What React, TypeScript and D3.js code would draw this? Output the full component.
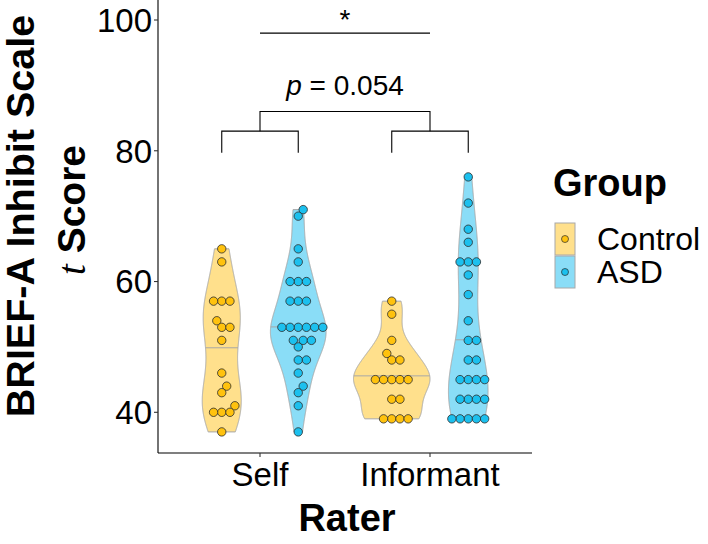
import React from "react";
import * as d3 from "d3";

// ---------- data ----------
const raters = ["Self", "Informant"];
const groups = ["Control", "ASD"];
const selfControl = [65, 63, 57, 57, 57, 54, 53, 53, 51, 46, 44, 43, 41, 40, 40, 40, 37];
const selfASD = [71, 70, 65, 63, 60, 60, 60, 57, 57, 57, 53, 53, 53, 53, 53, 53, 51, 51, 51, 50, 48, 48, 46, 44, 43, 41, 37];
const informantControl = [57, 55, 51, 49, 48, 48, 45, 45, 45, 45, 45, 42, 42, 39, 39, 39, 39];
const informantASD = [76, 72, 68, 66, 63, 63, 63, 61, 58, 54, 51, 51, 48, 48, 45, 45, 45, 45, 42, 42, 42, 42, 39, 39, 39, 39, 39];
const yTicks = [40, 60, 80, 100];
const pLabel = "0.054";
const starLabel = "*";
// bracket levels (data units)
const legBottom = 79.7;
const innerBracket = 83;
const outerBracket = 86;
const starLine = 98;

const groupFill: Record<string, string> = { Control: "#FFE08C", ASD: "#8ADDF7" };
const pointFill: Record<string, string> = { Control: "#FFC20E", ASD: "#1CC0EE" };

// ---------- layout ----------
const W = 708, H = 544;
const panel = { left: 158, right: 532, top: 0, bottom: 453 };
const x = d3.scalePoint<string>().domain(raters).range([panel.left, panel.right]).padding(0.6);
const y = d3.scaleLinear().domain([40, 100]).range([412.3, 20]);
const step = x.step();
const groupWidth = 0.45 * step;
const dodge = (g: string) => (g === "Control" ? -groupWidth / 2 : groupWidth / 2);

const series = [
  { rater: "Self", group: "Control", values: selfControl },
  { rater: "Self", group: "ASD", values: selfASD },
  { rater: "Informant", group: "Control", values: informantControl },
  { rater: "Informant", group: "ASD", values: informantASD },
];

function bwNrd0(v: number[]) {
  const s = [...v].sort((a, b) => a - b);
  const sd = d3.deviation(s) || 0;
  const iqr = ((d3.quantileSorted(s, 0.75) || 0) - (d3.quantileSorted(s, 0.25) || 0)) / 1.34;
  let lo = Math.min(sd, iqr);
  if (!(lo > 0)) lo = sd || Math.abs(s[0]) || 1;
  return 0.9 * lo * Math.pow(s.length, -0.2);
}

function density(v: number[]) {
  const bw = bwNrd0(v);
  const lo = d3.min(v)!, hi = d3.max(v)!;
  const n = 512;
  const pts: { y: number; d: number }[] = [];
  for (let i = 0; i < n; i++) {
    const yy = lo + ((hi - lo) * i) / (n - 1);
    let s = 0;
    for (const xi of v) {
      const z = (yy - xi) / bw;
      s += Math.exp(-0.5 * z * z);
    }
    pts.push({ y: yy, d: s / (v.length * bw * Math.sqrt(2 * Math.PI)) });
  }
  return pts;
}

const dens = series.map((s) => density(s.values));
const globalMax = d3.max(dens.flat(), (p) => p.d)!;

function medianOf(pts: { y: number; d: number }[]) {
  const total = d3.sum(pts, (p) => p.d);
  let c = 0;
  let prevC = 0, prevY = pts[0].y;
  for (const p of pts) {
    c += p.d / total;
    if (c >= 0.5) {
      const t = c === prevC ? 0 : (0.5 - prevC) / (c - prevC);
      return prevY + t * (p.y - prevY);
    }
    prevC = c;
    prevY = p.y;
  }
  return pts[pts.length - 1].y;
}

function widthAt(pts: { y: number; d: number }[], yy: number) {
  for (let i = 1; i < pts.length; i++) {
    if (pts[i].y >= yy) {
      const a = pts[i - 1], b = pts[i];
      const t = (yy - a.y) / (b.y - a.y || 1);
      return a.d + t * (b.d - a.d);
    }
  }
  return pts[pts.length - 1].d;
}

const DOT = 8.2;
function swarm(values: number[]) {
  const order = values.map((_, i) => i).sort((a, b) => values[a] - values[b]);
  const placed: { x: number; y: number }[] = [];
  const out: { x: number; y: number }[] = new Array(values.length);
  for (const i of order) {
    const py = y(values[i]);
    const cands = [0];
    for (const p of placed) {
      const dy = Math.abs(p.y - py);
      if (dy < DOT) {
        const off = Math.sqrt(DOT * DOT - dy * dy);
        cands.push(p.x + off, p.x - off);
      }
    }
    const ok = cands.filter((cx) =>
      placed.every((p) => Math.hypot(p.x - cx, p.y - py) >= DOT - 1e-6)
    );
    ok.sort((a, b) => Math.abs(a) - Math.abs(b) || b - a);
    const pos = { x: ok[0], y: py };
    placed.push(pos);
    out[i] = pos;
  }
  return out;
}

export default function App() {
  const area = d3
    .area<{ y: number; d: number }>()
    .y((p) => y(p.y));

  const violins = series.map((s, k) => {
    const cx = x(s.rater)! + dodge(s.group);
    const pts = dens[k];
    const hw = (p: { d: number }) => (p.d / globalMax) * (groupWidth / 2);
    const path = area.x0((p) => cx - hw(p)).x1((p) => cx + hw(p))(pts) || "";
    const med = medianOf(pts);
    const mw = (widthAt(pts, med) / globalMax) * (groupWidth / 2);
    return { s, cx, path, med, mw };
  });

  const dots = series.map((s) => {
    const cx = x(s.rater)! + dodge(s.group);
    return { s, cx, pos: swarm(s.values) };
  });

  const selfC = x("Self")! + dodge("Control");
  const selfA = x("Self")! + dodge("ASD");
  const infC = x("Informant")! + dodge("Control");
  const infA = x("Informant")! + dodge("ASD");
  const selfX = x("Self")!;
  const infX = x("Informant")!;

  const font = "'Liberation Sans', Arial, sans-serif";

  return (
    <svg width={W} height={H} style={{ position: "absolute", left: 0, top: 0 }} fontFamily={font}>
      <rect width={W} height={H} fill="#fff" />
      {/* violins */}
      {violins.map((v, i) => (
        <g key={"v" + i}>
          <path d={v.path} fill={groupFill[v.s.group]} stroke="#A8A8A8" strokeWidth={1} />
          <line x1={v.cx - v.mw} x2={v.cx + v.mw} y1={y(v.med)} y2={y(v.med)} stroke="#A8A8A8" strokeWidth={1} />
        </g>
      ))}
      {/* dots */}
      {dots.map((d, i) => (
        <g key={"d" + i}>
          {d.pos.map((p, j) => (
            <circle key={j} cx={d.cx + p.x} cy={p.y} r={4.2} fill={pointFill[d.s.group]} stroke="#2b2b2b" strokeWidth={0.8} />
          ))}
        </g>
      ))}
      {/* brackets */}
      <g stroke="#000" strokeWidth={1.1} fill="none">
        <path d={`M${selfC},${y(legBottom)}V${y(innerBracket)}H${selfA}V${y(legBottom)}`} />
        <path d={`M${infC},${y(legBottom)}V${y(innerBracket)}H${infA}V${y(legBottom)}`} />
        <path d={`M${selfX},${y(innerBracket)}V${y(outerBracket)}H${infX}V${y(innerBracket)}`} />
        <line x1={selfX} x2={infX} y1={y(starLine)} y2={y(starLine)} />
      </g>
      <text x={(selfX + infX) / 2} y={95} fontSize={28} textAnchor="middle">
        <tspan fontStyle="italic">p</tspan>
        <tspan> = {pLabel}</tspan>
      </text>
      <text x={(selfX + infX) / 2} y={29} fontSize={28} textAnchor="middle">{starLabel}</text>
      {/* axes */}
      <line x1={panel.left} x2={panel.left} y1={panel.top} y2={panel.bottom} stroke="#000" strokeWidth={1.1} />
      <line x1={panel.left} x2={panel.right} y1={panel.bottom} y2={panel.bottom} stroke="#000" strokeWidth={1.1} />
      {yTicks.map((t) => (
        <g key={"yt" + t}>
          <line x1={panel.left - 4} x2={panel.left} y1={y(t)} y2={y(t)} stroke="#333" strokeWidth={1.1} />
          <text x={panel.left - 6} y={y(t)} dy="0.36em" fontSize={33} textAnchor="end">{t}</text>
        </g>
      ))}
      {raters.map((r) => (
        <g key={"xt" + r}>
          <line x1={x(r)!} x2={x(r)!} y1={panel.bottom} y2={panel.bottom + 4} stroke="#333" strokeWidth={1.1} />
          <text x={x(r)!} y={486} fontSize={33} textAnchor="middle">{r}</text>
        </g>
      ))}
      <text x={(panel.left + panel.right) / 2 + 2} y={531} fontSize={38} fontWeight="bold" textAnchor="middle">Rater</text>
      <g transform="translate(34,216) rotate(-90)">
        <text fontSize={39.5} fontWeight="bold" textAnchor="middle">BRIEF-A Inhibit Scale</text>
      </g>
      <g transform="translate(85,210) rotate(-90)">
        <text fontSize={39} fontWeight="bold" textAnchor="middle">
          <tspan fontStyle="italic" fontWeight="normal" fontFamily="'Liberation Serif', serif">t</tspan>
          <tspan> Score</tspan>
        </text>
      </g>
      {/* legend */}
      <text x={553} y={196} fontSize={38} fontWeight="bold">Group</text>
      {groups.map((g, i) => {
        const ky = 223 + i * 33;
        return (
          <g key={"lg" + g}>
            <rect x={555} y={ky} width={20} height={32} fill={groupFill[g]} stroke="#A8A8A8" strokeWidth={1} />
            <circle cx={565} cy={ky + 16} r={3.5} fill={pointFill[g]} stroke="#2b2b2b" strokeWidth={0.7} />
            <text x={597} y={ky + 27} fontSize={32}>{g}</text>
          </g>
        );
      })}
    </svg>
  );
}
